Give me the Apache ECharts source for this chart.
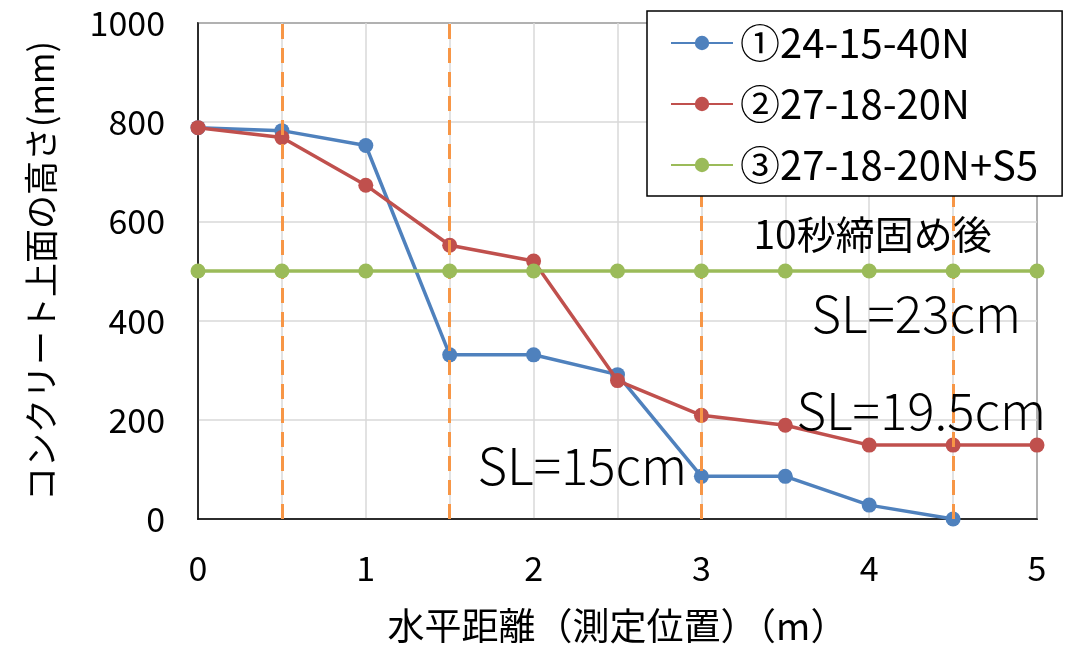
<!DOCTYPE html>
<html>
<head>
<meta charset="utf-8">
<script src="https://cdn.jsdelivr.net/npm/echarts@6/dist/echarts.min.js"></script>
<style>
  html, body { margin: 0; padding: 0; background: #fff; }
  #chart { width: 1076px; height: 649px; }
</style>
</head>
<body>
<div id="chart"></div>
<script>
// Horizontal measuring positions (m)
const positions = [0, 0.5, 1, 1.5, 2, 2.5, 3, 3.5, 4, 4.5, 5];

// Height of the concrete top surface (mm) after 10 s of compaction
const mix1 = [789, 783, 753, 331, 331, 291, 86, 86, 28, 0];
const mix2 = [789, 769, 673, 552, 520, 279, 209, 189, 149, 149, 149];
const mix3 = [500, 500, 500, 500, 500, 500, 500, 500, 500, 500, 500];

const seriesNames = ['①24-15-40N', '②27-18-20N', '③27-18-20N+S5'];

// Positions marked with dashed reference lines (m)
const markedPositions = [0.5, 1.5, 3, 4.5];

// Text notes placed in data coordinates [x (m), y (mm)]
const notes = [
  { text: '10秒締固め後', coord: [4.02, 574] },
  { text: 'SL=23cm', coord: [4.28, 414] },
  { text: 'SL=19.5cm', coord: [4.31, 219] },
  { text: 'SL=15cm', coord: [2.29, 108] }
];

const FONT = '"Noto Sans CJK JP", "Noto Sans", sans-serif';
const colors = ['#4F81BD', '#C0504D', '#9BBB59'];

const pairs = (vals) => vals.map((v, i) => [positions[i], v]);

const chart = echarts.init(document.getElementById('chart'));

const lineSeries = [mix1, mix2, mix3].map((vals, k) => ({
  name: seriesNames[k],
  type: 'line',
  data: pairs(vals),
  symbol: 'circle',
  symbolSize: 15,
  showSymbol: true,
  clip: false,
  lineStyle: { width: 3.5, color: colors[k] },
  itemStyle: { color: colors[k] },
  emphasis: { disabled: true },
  z: 3 + k
}));

// Dashed vertical markers and text notes
lineSeries.push({
  name: 'markers',
  type: 'line',
  data: [],
  silent: true,
  z: 2,
  markLine: {
    silent: true,
    symbol: 'none',
    label: { show: false },
    lineStyle: { color: '#F79646', width: 3, type: [15, 9] },
    data: markedPositions.map(x => ({ xAxis: x }))
  },
  markPoint: {
    silent: true,
    symbol: 'circle',
    symbolSize: 0,
    label: {
      show: true,
      position: 'inside',
      fontFamily: FONT,
      fontSize: 51,
      fontWeight: 300,
      color: '#000',
      formatter: p => p.name
    },
    data: notes.map((n, i) => ({
      name: n.text,
      coord: n.coord,
      label: i === 0 ? { fontSize: 39, fontWeight: 400 } : {}
    }))
  }
});

chart.setOption({
  animation: false,
  backgroundColor: '#fff',
  textStyle: { fontFamily: FONT },
  grid: {
    left: 198, right: 39, top: 23, bottom: 128,
    show: true, borderColor: '#000', borderWidth: 1.5, backgroundColor: 'transparent'
  },
  legend: {
    data: seriesNames,
    orient: 'vertical',
    left: 647, top: 11,
    padding: [12, 24, 11, 23],
    itemGap: 21,
    itemWidth: 62, itemHeight: 18,
    backgroundColor: '#fff',
    borderColor: '#000',
    borderWidth: 1.5,
    borderRadius: 0,
    textStyle: { fontFamily: FONT, fontSize: 40, fontWeight: 'normal', color: '#000', lineHeight: 40, padding: [0, 0, 0, 2] },
    z: 10
  },
  xAxis: {
    type: 'value',
    min: 0, max: 5, interval: 0.5,
    name: '水平距離（測定位置）（m）',
    nameLocation: 'middle',
    nameGap: 88,
    nameTextStyle: { fontFamily: FONT, fontSize: 37, color: '#000' },
    axisLine: { show: true, lineStyle: { color: '#000', width: 1.5 } },
    axisTick: { show: false },
    axisLabel: {
      fontFamily: FONT, fontSize: 34, color: '#000', margin: 32,
      formatter: v => (Number.isInteger(v) ? String(v) : '')
    },
    splitLine: { show: true, lineStyle: { color: '#D9D9D9', width: 1.5 } }
  },
  yAxis: {
    type: 'value',
    min: 0, max: 1000, interval: 200,
    name: 'コンクリート上面の高さ(mm)',
    nameLocation: 'middle',
    nameRotate: 90,
    nameGap: 140,
    nameTextStyle: { fontFamily: FONT, fontSize: 34, color: '#000' },
    axisLine: { show: true, lineStyle: { color: '#000', width: 1.5 } },
    axisTick: { show: false },
    axisLabel: {
      fontFamily: FONT, fontSize: 34, color: '#000', margin: 33,
      formatter: v => String(v)
    },
    splitLine: { show: true, lineStyle: { color: '#D9D9D9', width: 1.5 } }
  },
  series: lineSeries
});
</script>
</body>
</html>
